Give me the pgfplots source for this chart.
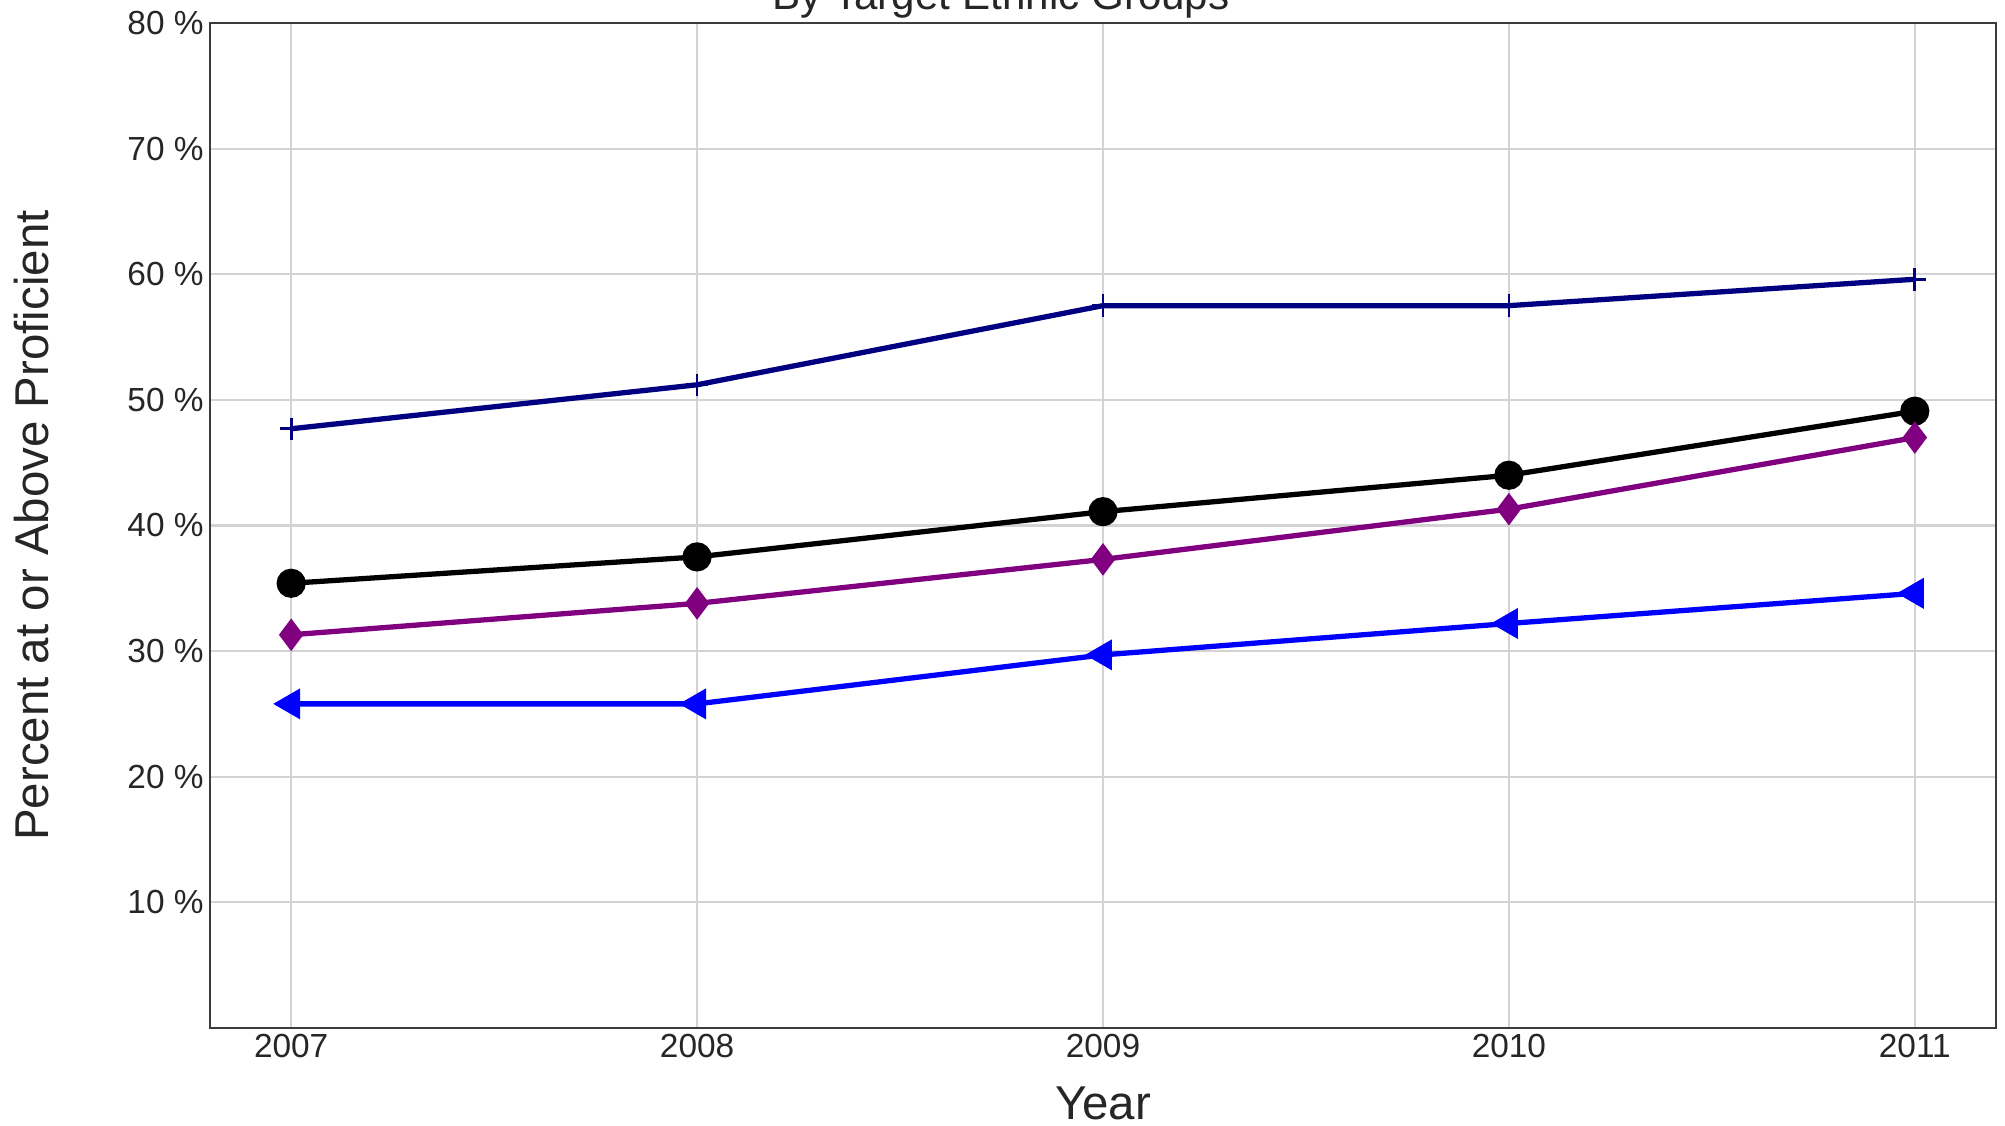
\documentclass[border=0pt]{standalone}
\usepackage{pgfplots}
\pgfplotsset{compat=1.18}
\usepackage{fontspec}
\setmainfont{Liberation Sans}
\definecolor{navyc}{RGB}{0,0,128}
\definecolor{purplec}{RGB}{128,0,128}
\definecolor{bluec}{RGB}{0,0,255}
\definecolor{gridc}{RGB}{211,211,211}
\definecolor{axc}{RGB}{60,60,60}
\begin{document}
\begin{tikzpicture}
\path[use as bounding box] (-2.1cm,-0.98cm) rectangle (17.95cm,10.28cm);
\begin{axis}[
  at={(0,0)}, anchor=south west,
  scale only axis, width=17.86cm, height=10.05cm,
  xmin=2006.8, xmax=2011.2, ymin=0, ymax=80,
  xtick={2007,2008,2009,2010,2011},
  xticklabels={2007,2008,2009,2010,2011},
  ytick={10,20,30,40,50,60,70,80},
  yticklabels={10 \%,20 \%,30 \%,40 \%,50 \%,60 \%,70 \%,80 \%},
  major tick length=0pt,
  xmajorgrids, ymajorgrids,
  grid style={gridc, line width=0.6pt},
  axis line style={axc, line width=0.6pt},
  tick label style={font=\fontsize{9.5}{11}\selectfont, text=black!85},
  xticklabel style={yshift=0.065cm},
  yticklabel style={xshift=0.06cm},
  xlabel={Year}, ylabel={Percent at or Above Proficient},
  label style={font=\fontsize{13.5}{16}\selectfont, text=black!85},
  xlabel style={at={(axis description cs:0.5,0)}, anchor=base, yshift=-0.92cm},
  ylabel style={at={(axis description cs:-0.0997,0.5)}, anchor=center},
  every axis plot/.append style={line width=1.5pt},
  clip=false,
]
\addplot[navyc, mark=+, mark size=3.2pt, mark options={line width=0.8pt}] coordinates {
(2007,47.7) (2008,51.2) (2009,57.5) (2010,57.5) (2011,59.6)};
\addplot[black, mark=*, mark size=3.4pt] coordinates {
(2007,35.4) (2008,37.5) (2009,41.1) (2010,44.0) (2011,49.1)};
\addplot[purplec, mark=diamond*, mark size=3.4pt] coordinates {
(2007,31.3) (2008,33.8) (2009,37.3) (2010,41.3) (2011,47.0)};
\addplot[bluec, mark=triangle*, mark size=3.6pt, mark options={rotate=90}] coordinates {
(2007,25.8) (2008,25.8) (2009,29.7) (2010,32.2) (2011,34.6)};
\end{axis}
\node[anchor=base, font=\fontsize{12}{14}\selectfont, text=black!85] at (7.91cm,10.18cm) {By Target Ethnic Groups};
\end{tikzpicture}
\end{document}
